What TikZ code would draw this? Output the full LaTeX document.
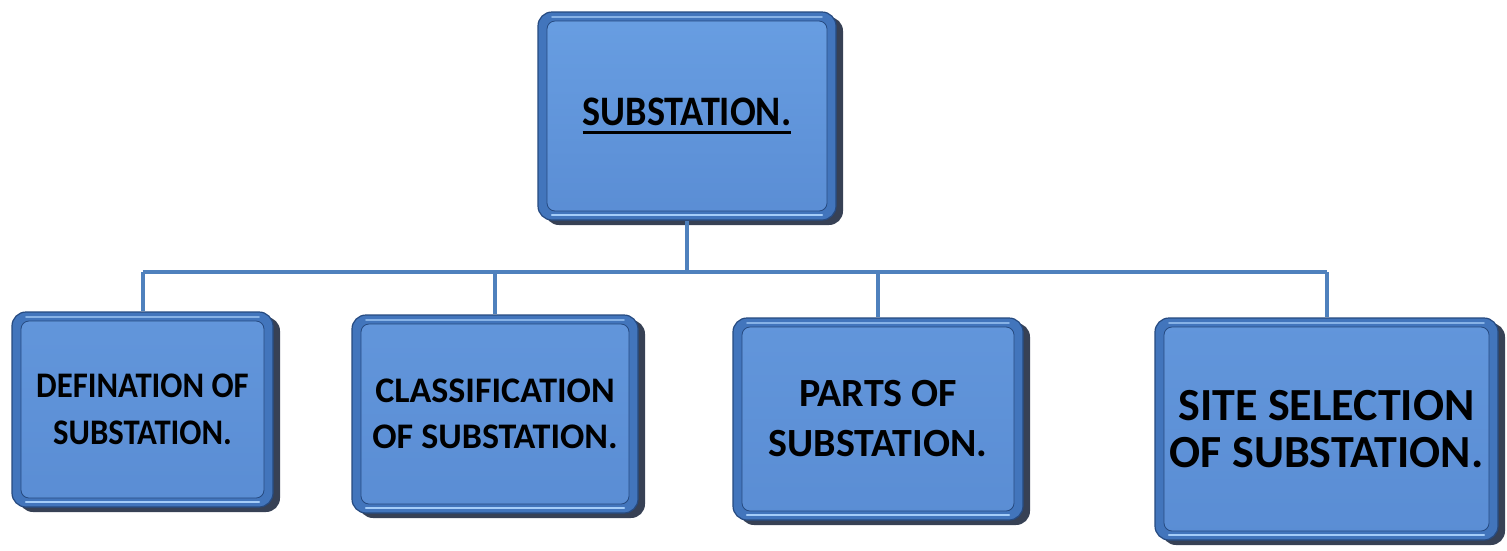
\documentclass[tikz,border=0pt]{standalone}
\usepackage{fontspec}
\setmainfont{Carlito}
\newfontfamily\narrowcal{Carlito}[FakeStretch=0.91]
\usetikzlibrary{shadows}

% heavy underline a few points below the baseline
\newcommand\thickunder[1]{\setbox0\hbox{#1}\rlap{\vrule width\wd0 height -5pt depth 8pt}\box0}

\definecolor{face}{RGB}{90,141,212}
\definecolor{facetop}{RGB}{98,150,219}
\definecolor{rootface}{RGB}{104,158,226}
\definecolor{rim}{RGB}{66,117,188}
\definecolor{rimdark}{RGB}{38,74,128}
\definecolor{glint}{RGB}{165,205,248}
\definecolor{wire}{RGB}{79,129,189}
\definecolor{shade}{RGB}{20,32,55}

\tikzset{
  tile/.style={rounded corners=14pt, fill=rim, draw=rimdark, line width=1.2pt,
    align=center, inner sep=0pt, text=black,
    drop shadow={shadow xshift=7pt, shadow yshift=-5pt, fill=shade, opacity=0.85},
    path picture={
      \fill[rounded corners=8pt, top color=#1, bottom color=face, draw=rimdark, line width=0.8pt]
        ([shift={(9pt,-9pt)}]path picture bounding box.north west) rectangle
        ([shift={(-9pt,9pt)}]path picture bounding box.south east);
      \draw[glint, line width=2.2pt, line cap=round]
        ([shift={(14pt,5pt)}]path picture bounding box.south west) --
        ([shift={(-14pt,5pt)}]path picture bounding box.south east);
      \draw[glint!70!rim, line width=1.6pt, line cap=round]
        ([shift={(14pt,-5pt)}]path picture bounding box.north west) --
        ([shift={(-14pt,-5pt)}]path picture bounding box.north east);
    }},
  tile/.default=facetop,
  wireline/.style={draw=wire, line width=4pt},
}

\begin{document}
\begin{tikzpicture}[x=1pt, y=-1pt]
  \useasboundingbox (0,0) rectangle (1507,550);

  % root and the four topics
  \node[tile=rootface, minimum width=298pt, minimum height=208pt,
        font=\narrowcal\fontsize{42}{50}\selectfont\bfseries]
        (root) at (687,116) {\thickunder{SUBSTATION.}};
  \node[tile, minimum width=261pt, minimum height=195pt,
        font=\narrowcal\fontsize{36}{47}\selectfont\bfseries]
        (def) at (142.5,409.5) {DEFINATION OF\\SUBSTATION.};
  \node[tile, minimum width=286pt, minimum height=198pt,
        font=\fontsize{36}{46}\selectfont\bfseries]
        (cls) at (495,414) {CLASSIFICATION\\OF SUBSTATION.};
  \node[tile, minimum width=290pt, minimum height=202pt,
        font=\fontsize{40}{50}\selectfont\bfseries]
        (prt) at (878,419) {PARTS OF\\SUBSTATION.};
  \node[tile, minimum width=343pt, minimum height=222pt,
        font=\fontsize{46}{47}\selectfont\bfseries]
        (site) at (1326.5,429) {SITE SELECTION\\OF SUBSTATION.};

  % tree connectors
  \coordinate (bus) at (0,272);
  \draw[wireline] (root.south) -- (root.south |- bus);
  \draw[wireline] (def.north |- bus) -- (site.north |- bus);
  \draw[wireline] (def.north |- bus) -- (def.north);
  \draw[wireline] (cls.north |- bus) -- (cls.north);
  \draw[wireline] (prt.north |- bus) -- (prt.north);
  \draw[wireline] (site.north |- bus) -- (site.north);
\end{tikzpicture}
\end{document}
